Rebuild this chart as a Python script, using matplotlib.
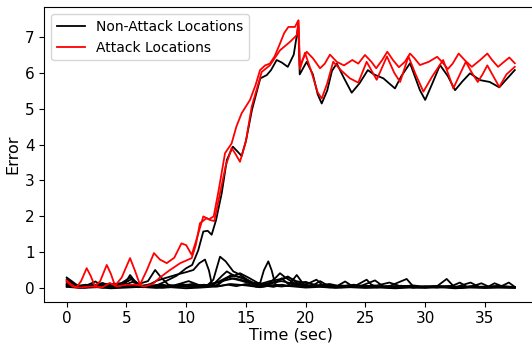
import matplotlib
matplotlib.use("Agg")
import matplotlib.pyplot as plt

# ---------------- data ----------------
# black curve that follows the attack (rises to ~6)
bh_t = [0, 0.5, 1, 2, 3, 4, 5, 6, 7, 7.5, 8, 8.6, 9.2, 10, 10.5, 11, 11.43, 11.8, 12.13,
        12.5, 12.97, 13.4, 13.9, 14.25, 14.64, 15, 15.5, 16.2, 16.74, 17.1, 17.57, 18, 18.5,
        19, 19.38, 19.5, 20.08, 20.6, 21, 21.34, 21.8, 22.2, 22.6, 23.2, 23.85, 24.5, 25.2,
        25.7, 26.5, 27.47, 28, 28.73, 29.56, 30, 30.6, 31.24, 31.9, 32.5, 33.1, 33.75, 34.6,
        35.4, 36.2, 36.9, 37.5]
bh_v = [0.1, 0.05, 0.02, 0.05, 0.03, 0.05, 0.05, 0.06, 0.05, 0.08, 0.15, 0.25, 0.35, 0.56,
        0.65, 1.05, 1.58, 1.6, 1.49, 1.9, 2.64, 3.57, 3.94, 3.82, 3.68, 4.1, 4.96, 5.84, 5.93,
        6.07, 6.35, 6.28, 6.16, 6.5, 7.3, 5.95, 6.3, 5.95, 5.4, 5.14, 5.5, 6.05, 6.25, 5.85,
        5.44, 5.7, 6.07, 5.95, 5.84, 5.56, 5.9, 6.26, 5.51, 5.24, 5.7, 6.21, 5.9, 5.51, 5.75,
        5.98, 5.79, 5.74, 5.59, 5.85, 6.07]

# attack curve A (early bumps, upper branch later)
ra_t = [0, 0.4, 0.8, 1.2, 1.67, 2.0, 2.37, 2.8, 3.35, 3.7, 4.04, 4.6, 5.3, 5.7, 6.13, 6.7,
        7.3, 7.8, 8.37, 9.0, 9.6, 10.0, 10.46, 10.9, 11.43, 11.9, 12.3, 12.7, 13.25, 13.8,
        14.2, 14.64, 15.34, 15.8, 16.18, 16.6, 17.0, 17.4, 17.85, 18.2, 18.55, 19.1, 19.38,
        19.5, 20.08, 20.6, 21.2, 21.6, 22.03, 22.6, 23.2, 23.9, 24.4, 24.96, 25.5, 25.9, 26.4,
        26.83, 27.3, 27.8, 28.3, 28.73, 29.1, 29.56, 30.3, 31.0, 31.4, 31.9, 32.3, 32.8, 33.3,
        33.9, 34.6, 35.2, 35.6, 36.1, 36.6, 37.04, 37.5]
ra_v = [0.22, 0.1, 0.02, 0.2, 0.56, 0.35, 0.05, 0.2, 0.65, 0.4, 0.07, 0.3, 0.84, 0.5, 0.1,
        0.5, 0.98, 0.8, 0.7, 0.85, 1.25, 1.2, 0.93, 1.4, 2.0, 1.92, 2.0, 2.7, 3.76, 4.03, 4.5,
        4.87, 5.24, 5.65, 6.07, 6.2, 6.25, 6.45, 6.81, 7.1, 7.27, 7.27, 7.45, 6.2, 6.58, 6.4,
        6.12, 6.25, 6.5, 6.3, 6.2, 6.35, 6.25, 6.49, 6.3, 6.12, 6.35, 6.58, 6.35, 6.15, 6.3,
        6.53, 6.4, 6.21, 6.3, 6.44, 6.3, 6.1, 6.25, 6.53, 6.35, 6.16, 6.35, 6.53, 6.35, 6.16,
        6.3, 6.42, 6.26]

# attack curve B (slow start, tracks the black curve later)
rb_t = [0, 0.5, 1, 2, 3, 3.6, 4.2, 5, 5.86, 6.5, 7.2, 7.8, 8.6, 9.5, 10.46, 10.8, 11.15,
        11.7, 12.0, 12.35, 12.8, 13.3, 13.8, 14.1, 14.5, 15.0, 15.48, 16.32, 17.0, 17.85,
        18.7, 19.25, 19.4, 19.52, 19.94, 20.5, 21.0, 21.34, 21.8, 22.3, 23.0, 23.7, 24.4,
        25.1, 25.94, 26.8, 27.4, 27.9, 28.6, 29.2, 29.85, 30.6, 31.5, 32.0, 32.35, 32.9, 33.4,
        33.9, 34.4, 34.8, 35.2, 35.7, 36.2, 36.8, 37.5]
rb_v = [0.18, 0.05, 0.02, 0.05, 0.03, 0.15, 0.05, 0.1, 0.1, 0.05, 0.12, 0.3, 0.5, 0.7, 0.84,
        1.2, 1.81, 1.95, 1.9, 1.87, 2.6, 3.4, 3.9, 3.75, 3.52, 4.1, 5.05, 6.02, 6.2, 6.62,
        6.86, 7.04, 7.45, 6.1, 6.55, 6.0, 5.45, 5.28, 5.7, 6.3, 6.05, 5.84, 5.72, 6.3, 5.8,
        6.45, 6.0, 5.74, 6.45, 5.95, 5.47, 5.9, 6.35, 5.9, 5.56, 5.95, 6.3, 6.0, 5.74, 5.95,
        6.2, 5.9, 5.6, 5.95, 6.16]

# non-attack curves that stay near zero
l1_t = [0, 0.5, 1.0, 1.8, 2.4, 3.0, 3.6, 4.0, 4.5, 5.0, 5.3, 5.7, 6.2, 7.0, 7.6, 8.4, 9.2,
        10.0, 10.6, 11.1, 11.57, 11.9, 12.13, 12.6, 13.5, 14.2, 15, 16, 17, 18, 19, 20, 21,
        22, 23, 24, 25, 26, 27, 28, 29, 30, 31, 32, 33, 34, 35, 36, 37.5]
l1_v = [0.3, 0.18, 0.05, 0.1, 0.19, 0.06, 0.08, 0.14, 0.05, 0.2, 0.37, 0.2, 0.05, 0.12, 0.22,
        0.3, 0.38, 0.45, 0.51, 0.7, 0.8, 0.5, 0.14, 0.05, 0.1, 0.06, 0.12, 0.04, 0.08, 0.05,
        0.1, 0.04, 0.06, 0.03, 0.08, 0.04, 0.06, 0.03, 0.05, 0.07, 0.03, 0.05, 0.04, 0.06,
        0.03, 0.05, 0.04, 0.06, 0.04]
l2_t = [0, 0.7, 1.5, 2.2, 3.0, 3.8, 4.6, 5.4, 6.2, 7.0, 7.8, 8.6, 9.4, 10.2, 11.0, 11.7,
        12.27, 12.83, 13.3, 13.94, 14.5, 15.34, 15.8, 16.5, 17.3, 18.0, 18.6, 19.3, 20, 21,
        22, 23, 24, 25.1, 25.5, 26, 27, 28, 29, 30, 31, 31.8, 32.4, 33, 34, 35, 36, 37.5]
l2_v = [0.2, 0.1, 0.03, 0.08, 0.15, 0.05, 0.1, 0.25, 0.08, 0.04, 0.1, 0.05, 0.12, 0.2, 0.1,
        0.06, 0.24, 0.88, 0.75, 0.47, 0.38, 0.19, 0.05, 0.08, 0.04, 0.1, 0.06, 0.12, 0.05,
        0.08, 0.03, 0.06, 0.04, 0.24, 0.1, 0.04, 0.06, 0.03, 0.05, 0.03, 0.06, 0.26, 0.05,
        0.03, 0.05, 0.03, 0.04, 0.03]
l3_t = [0, 0.8, 1.6, 2.4, 3.2, 4.0, 4.8, 5.6, 6.4, 7.2, 8.0, 8.8, 9.6, 10.4, 11.2, 12.0,
        12.8, 13.4, 14.0, 14.7, 15.4, 16.18, 16.5, 16.87, 17.15, 17.43, 18.0, 18.6, 19.25,
        19.8, 20.5, 21.5, 22.5, 23.3, 24, 25, 26, 27, 28.45, 29, 30, 31, 32, 32.9, 33.5, 34,
        35, 36, 37.5]
l3_v = [0.15, 0.05, 0.1, 0.03, 0.08, 0.05, 0.12, 0.05, 0.03, 0.06, 0.04, 0.08, 0.05, 0.03,
        0.06, 0.1, 0.2, 0.3, 0.35, 0.3, 0.15, 0.14, 0.5, 0.75, 0.5, 0.14, 0.28, 0.1, 0.37,
        0.12, 0.05, 0.1, 0.04, 0.19, 0.04, 0.05, 0.03, 0.06, 0.26, 0.05, 0.04, 0.06, 0.03,
        0.16, 0.04, 0.05, 0.03, 0.05, 0.03]
l4_t = [0, 0.6, 1.4, 2.2, 3.0, 3.8, 4.6, 5.3, 6.0, 6.8, 7.4, 7.9, 8.5, 9.3, 10.0, 10.8,
        11.6, 12.4, 13.0, 13.4, 14.0, 14.5, 15.2, 16.0, 16.8, 17.5, 17.85, 18.3, 19.0, 20.0,
        20.9, 21.5, 22.5, 23.5, 24.5, 25.8, 26.5, 27.5, 28.5, 29.5, 30.5, 31.5, 32.5, 33.8,
        34.5, 35.2, 36.2, 37.0, 37.5]
l4_v = [0.25, 0.12, 0.04, 0.1, 0.05, 0.1, 0.15, 0.3, 0.12, 0.2, 0.51, 0.3, 0.1, 0.05, 0.1,
        0.04, 0.08, 0.15, 0.35, 0.47, 0.35, 0.42, 0.3, 0.15, 0.1, 0.3, 0.42, 0.3, 0.15, 0.1,
        0.24, 0.06, 0.04, 0.08, 0.05, 0.22, 0.05, 0.04, 0.06, 0.03, 0.05, 0.04, 0.03, 0.16,
        0.04, 0.05, 0.03, 0.16, 0.04]
l5_t = [0, 0.5, 1.3, 2.0, 2.8, 3.5, 4.2, 5.0, 5.8, 6.5, 7.3, 8.0, 8.8, 9.6, 10.5, 11.5,
        12.5, 13.2, 13.8, 14.5, 15.2, 16.0, 17.0, 17.8, 18.6, 19.2, 20, 21, 22, 23, 24, 25,
        26, 27, 28, 29, 30, 31, 32, 33, 34, 34.7, 35.3, 35.8, 36.5, 37.5]
l5_v = [0.12, 0.05, 0.08, 0.03, 0.1, 0.06, 0.03, 0.12, 0.05, 0.08, 0.04, 0.1, 0.05, 0.12,
        0.06, 0.1, 0.05, 0.25, 0.38, 0.3, 0.22, 0.1, 0.2, 0.25, 0.3, 0.2, 0.15, 0.08, 0.12,
        0.05, 0.1, 0.06, 0.08, 0.16, 0.05, 0.08, 0.04, 0.06, 0.05, 0.03, 0.06, 0.14, 0.05,
        0.14, 0.05, 0.03]
l6_t = [0, 1, 2, 3, 4, 5, 6, 7, 8, 9, 10, 11, 12, 13, 14, 15, 16, 17, 18, 19, 20, 21, 22,
        23, 24, 25, 26, 27, 28, 29, 30, 31, 32, 33, 34, 35, 36, 37.5]
l6_v = [0.08, 0.03, 0.07, 0.02, 0.06, 0.1, 0.03, 0.07, 0.02, 0.05, 0.08, 0.03, 0.1, 0.2,
        0.28, 0.2, 0.1, 0.15, 0.2, 0.12, 0.18, 0.06, 0.1, 0.03, 0.07, 0.04, 0.06, 0.03, 0.07,
        0.02, 0.05, 0.03, 0.06, 0.02, 0.05, 0.03, 0.06, 0.03]
l7_t = [0, 0.6, 1.5, 2.5, 3.4, 4.4, 5.5, 6.4, 7.5, 8.5, 9.5, 10.5, 11.5, 12.5, 13.5, 14.5,
        15.5, 16.5, 17.5, 18.5, 19.5, 20.5, 21.2, 22, 23, 24, 25, 26, 27, 28, 29, 30, 31, 32,
        33, 34, 35, 36, 37.5]
l7_v = [0.05, 0.1, 0.02, 0.06, 0.12, 0.03, 0.18, 0.05, 0.09, 0.03, 0.07, 0.12, 0.04, 0.08,
        0.3, 0.22, 0.12, 0.05, 0.18, 0.33, 0.1, 0.06, 0.2, 0.05, 0.03, 0.06, 0.03, 0.05, 0.02,
        0.04, 0.03, 0.05, 0.02, 0.04, 0.02, 0.04, 0.02, 0.03, 0.02]
l8_t = [0, 1.2, 2.5, 3.7, 5, 6.2, 7.5, 8.7, 10, 11.2, 12.5, 13.7, 15, 16.2, 17.5, 18.7, 20,
        21.2, 22.5, 23.7, 25, 26.2, 27.5, 28.7, 30, 31.2, 32.5, 33.7, 35, 36.2, 37.5]
l8_v = [0.04, 0.01, 0.03, 0.0, 0.02, 0.04, 0.01, 0.03, 0.0, 0.02, 0.05, 0.12, 0.08, 0.03,
        0.1, 0.06, 0.02, 0.04, 0.01, 0.03, 0.01, 0.02, 0.0, 0.02, 0.01, 0.03, 0.0, 0.02, 0.01,
        0.02, 0.01]

low_curves = [(l1_t, l1_v), (l2_t, l2_v), (l3_t, l3_v), (l4_t, l4_v),
              (l5_t, l5_v), (l6_t, l6_v), (l7_t, l7_v), (l8_t, l8_v)]

# ---------------- plot ----------------
fig = plt.figure(figsize=(5.32, 3.45), dpi=100)
# right edge of the axes runs past the canvas, as in the reference
ax = fig.add_axes([0.0833, 0.1255, 0.9265, 0.854])

lw = 1.3
for t, v in low_curves:
    ax.plot(t, v, color="k", lw=lw)
ax.plot(bh_t, bh_v, color="k", lw=lw, label="Non-Attack Locations")
ax.plot(ra_t, ra_v, color="r", lw=lw, label="Attack Locations")
ax.plot(rb_t, rb_v, color="r", lw=lw)

ax.set_xticks([0, 5, 10, 15, 20, 25, 30, 35])
ax.set_yticks([0, 1, 2, 3, 4, 5, 6, 7])
ax.tick_params(labelsize=11)
ax.set_xlabel("Time (sec)", fontsize=11.5, labelpad=1)
ax.set_ylabel("Error", fontsize=11.5, labelpad=3)
ax.legend(loc="upper left", fontsize=10)
# the reference shows no right-hand frame line (it is cut off)
ax.spines["right"].set_visible(False)

fig.savefig("out.png", dpi=100)
